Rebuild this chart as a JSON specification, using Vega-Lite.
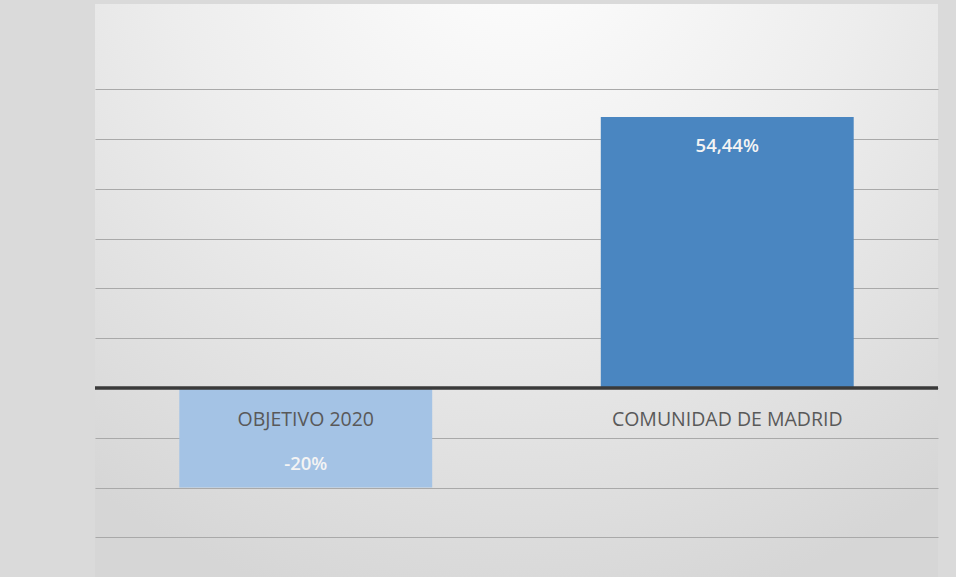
{
  "$schema": "https://vega.github.io/schema/vega-lite/v6.json",
  "autosize": "none",
  "width": 843,
  "height": 573,
  "padding": {"left": 95, "top": 4, "right": 18, "bottom": 0},
  "background": "#dadada",
  "config": {
    "view": {
      "stroke": null,
      "fill": {
        "gradient": "radial",
        "x1": 0.5, "y1": 0.05, "r1": 0,
        "x2": 0.5, "y2": 0.05, "r2": 0.85,
        "stops": [
          {"offset": 0, "color": "#ffffff"},
          {"offset": 0.5, "color": "#ededed"},
          {"offset": 1, "color": "#d6d6d6"}
        ]
      }
    },
    "font": "Open Sans"
  },
  "data": {
    "values": [
      {"categoria": "OBJETIVO 2020", "valor": -20, "etiqueta": "-20%"},
      {"categoria": "COMUNIDAD DE MADRID", "valor": 54.44, "etiqueta": "54,44%"}
    ]
  },
  "encoding": {
    "x": {
      "field": "categoria",
      "type": "nominal",
      "sort": null,
      "scale": {"paddingInner": 0.4, "paddingOuter": 0.2},
      "axis": null
    }
  },
  "layer": [
    {
      "mark": {"type": "bar"},
      "encoding": {
        "y": {
          "field": "valor",
          "type": "quantitative",
          "scale": {"domain": [-37.97, 77.14], "nice": false, "zero": false},
          "axis": {
            "values": [-30, -20, -10, 0, 10, 20, 30, 40, 50, 60],
            "labels": false,
            "ticks": false,
            "domain": false,
            "title": null,
            "grid": true,
            "gridColor": "#a9a9a9",
            "gridWidth": 1
          }
        },
        "color": {
          "field": "categoria",
          "type": "nominal",
          "scale": {
            "domain": ["OBJETIVO 2020", "COMUNIDAD DE MADRID"],
            "range": ["#a4c3e5", "#4a86c1"]
          },
          "legend": null
        }
      }
    },
    {
      "mark": {"type": "rule", "color": "#3a3a3a", "strokeWidth": 3},
      "encoding": {"y": {"datum": 0}, "x": {"value": 0}, "x2": {"value": 843}}
    },
    {
      "mark": {"type": "text", "fontSize": 19.5, "color": "#595959", "dy": 32},
      "encoding": {
        "y": {"datum": 0},
        "text": {"field": "categoria"}
      }
    },
    {
      "transform": [{"filter": "datum.valor >= 0"}],
      "mark": {"type": "text", "fontSize": 18.5, "fontWeight": 600, "color": "#f4f4f4", "dy": 29},
      "encoding": {
        "y": {"field": "valor", "type": "quantitative"},
        "text": {"field": "etiqueta"}
      }
    },
    {
      "transform": [{"filter": "datum.valor < 0"}],
      "mark": {"type": "text", "fontSize": 18.5, "fontWeight": 600, "color": "#f4f4f4", "dy": -24},
      "encoding": {
        "y": {"field": "valor", "type": "quantitative"},
        "text": {"field": "etiqueta"}
      }
    }
  ]
}
